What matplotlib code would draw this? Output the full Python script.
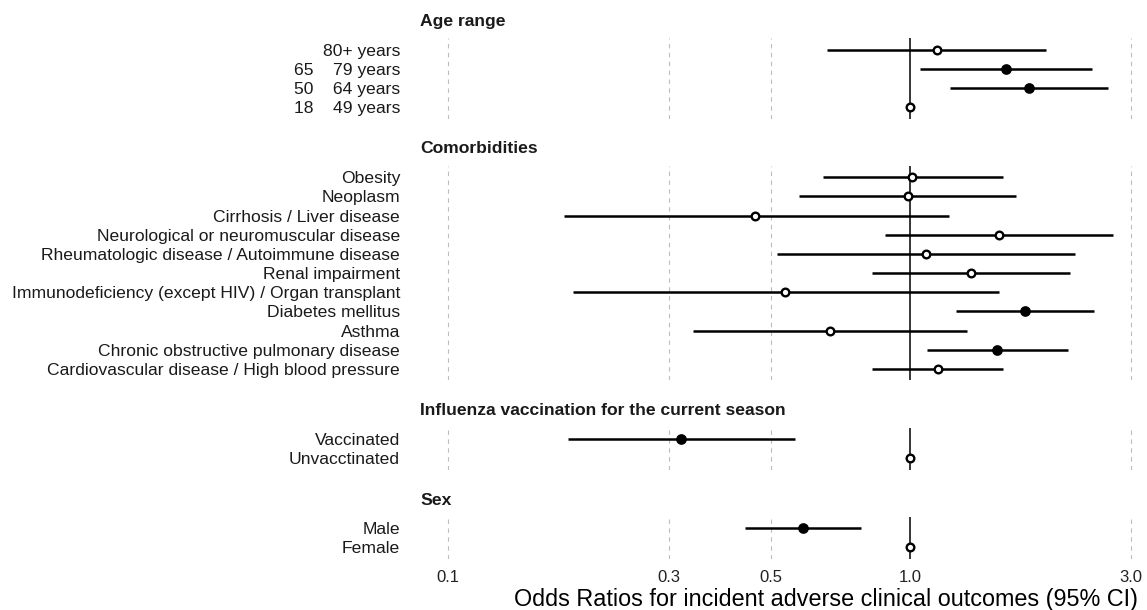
import numpy as np
import matplotlib
matplotlib.use('Agg')
import matplotlib.pyplot as plt

plt.rcParams['font.family'] = ['Liberation Sans', 'DejaVu Sans']

nan = np.nan

# panels, top to bottom
groups = ['Age range',
          'Comorbidities',
          'Influenza vaccination for the current season',
          'Sex']

age_labels = ['80+ years', '65    79 years', '50    64 years', '18    49 years']
age_or = [1.14, 1.61, 1.81, 1.0]
age_lo = [0.66, 1.05, 1.22, nan]
age_hi = [1.97, 2.47, 2.67, nan]

com_labels = ['Obesity',
              'Neoplasm',
              'Cirrhosis / Liver disease',
              'Neurological or neuromuscular disease',
              'Rheumatologic disease / Autoimmune disease',
              'Renal impairment',
              'Immunodeficiency (except HIV) / Organ transplant',
              'Diabetes mellitus',
              'Asthma',
              'Chronic obstructive pulmonary disease',
              'Cardiovascular disease / High blood pressure']
com_or = [1.01, 0.987, 0.462, 1.555, 1.08, 1.35, 0.537, 1.77, 0.669, 1.54, 1.147]
com_lo = [0.646, 0.575, 0.178, 0.881, 0.515, 0.826, 0.186, 1.258, 0.339, 1.085, 0.827]
com_hi = [1.59, 1.69, 1.21, 2.75, 2.27, 2.21, 1.555, 2.49, 1.325, 2.19, 1.59]

vac_labels = ['Vaccinated', 'Unvacctinated']
vac_or = [0.319, 1.0]
vac_lo = [0.1815, nan]
vac_hi = [0.564, nan]

sex_labels = ['Male', 'Female']
sex_or = [0.586, 1.0]
sex_lo = [0.44, nan]
sex_hi = [0.782, nan]

panels = [(age_labels, age_or, age_lo, age_hi),
          (com_labels, com_or, com_lo, com_hi),
          (vac_labels, vac_or, vac_lo, vac_hi),
          (sex_labels, sex_or, sex_lo, sex_hi)]

xticks = [0.1, 0.3, 0.5, 1.0, 3.0]
xticklabels = ['0.1', '0.3', '0.5', '1.0', '3.0']

W, H = 1147, 610
fig = plt.figure(figsize=(W / 100, H / 100), dpi=100)

heights = [len(p[0]) + 0.2 for p in panels]
gs = fig.add_gridspec(len(panels), 1, height_ratios=heights,
                      left=420 / W, right=1.0, top=1 - 38 / H, bottom=1 - 559 / H,
                      hspace=0.496)

for k, (labels, orr, lo, hi) in enumerate(panels):
    ax = fig.add_subplot(gs[k])
    n = len(labels)
    y = np.arange(n)[::-1]
    orr = np.array(orr)
    lo = np.array(lo)
    hi = np.array(hi)

    for xv in [0.1, 0.3, 0.5, 3.0]:
        ax.axvline(xv, color='#bdbdbd', lw=0.8, ls=(0, (4, 4)), zorder=0)
    ax.axvline(1.0, color='black', lw=1.1, zorder=1)

    ok = ~np.isnan(lo)
    ax.hlines(y[ok], lo[ok], hi[ok], color='black', lw=1.8, zorder=2)
    sig = ok & ((lo > 1) | (hi < 1))
    ax.plot(orr[sig], y[sig], 'o', ms=6.5, color='black', mec='black', mew=1.2, zorder=3)
    ax.plot(orr[~sig], y[~sig], 'o', ms=5.5, mfc='white', mec='black', mew=1.7, zorder=3)

    ax.set_xscale('log')
    ax.set_xlim(0.0870, 3.25)
    ax.set_ylim(-0.6, n - 1 + 0.6)
    ax.set_yticks(y)
    ax.set_yticklabels(labels, fontsize=12.6, color='#1a1a1a')
    ax.tick_params(axis='y', length=0, pad=14.4)
    ax.set_xticks(xticks)
    ax.minorticks_off()
    if k == len(panels) - 1:
        ax.set_xticklabels(xticklabels, fontsize=12, color='#222222')
        ax.tick_params(axis='x', length=0, pad=8)
        ax.set_xlabel('Odds Ratios for incident adverse clinical outcomes (95% CI)',
                      fontsize=16.8, labelpad=2, x=0.559)
    else:
        ax.set_xticklabels([])
        ax.tick_params(axis='x', length=0)
    for s in ax.spines.values():
        s.set_visible(False)
    ax.annotate(groups[k], xy=(0, 1), xycoords='axes fraction', xytext=(0, 12),
                textcoords='offset points', ha='left', va='center',
                fontsize=12.6, fontweight='bold', color='#1a1a1a')

fig.savefig('out.png', dpi=100)
